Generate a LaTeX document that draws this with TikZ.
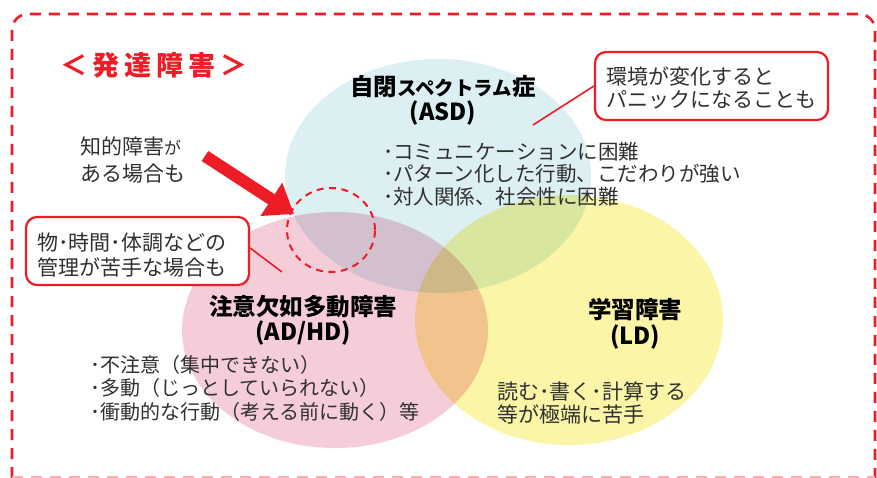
\documentclass[tikz,border=0pt]{standalone}
\usepackage{fontspec}
\setmainfont{Noto Sans CJK JP}
\usetikzlibrary{arrows.meta,shapes.geometric}
\definecolor{bred}{HTML}{EE1C25}
\definecolor{cyanfill}{HTML}{DCF0F3}
\definecolor{pinkfill}{HTML}{F5CDD9}
\definecolor{yellowfill}{HTML}{FBF5A8}
\definecolor{txt}{HTML}{303030}
\tikzset{
  body/.style={text=txt, inner sep=0pt, align=left, font=\fontsize{20.5}{22.5}\selectfont},
  title/.style={text=black, inner sep=0pt, align=center, font=\fontsize{23.5}{26}\selectfont\bfseries},
  callout/.style={draw=bred, line width=2.2pt, rounded corners=11pt, fill=white},
  leader/.style={draw=bred, line width=1.6pt},
}
\begin{document}
\begin{tikzpicture}[x=1pt,y=-1pt]
\useasboundingbox (0,0) rectangle (877,478);
\fill[white] (0,0) rectangle (877,478);
% outer dashed frame
\draw[bred, line width=2.6pt, dash pattern=on 11pt off 8pt, rounded corners=16pt] (12,478) -- (12,14) -- (875,14) -- (875,478);
\draw[bred!35, line width=2.6pt, dash pattern=on 11pt off 8pt] (12,477) -- (875,477);
% ellipses
\begin{scope}[blend mode=multiply]
\fill[cyanfill] (438,176) ellipse [x radius=153, y radius=117];
\fill[pinkfill] (335,330) ellipse [x radius=153, y radius=118];
\fill[yellowfill] (569,320) ellipse [x radius=154, y radius=125];
\end{scope}
% dashed circle
\node (ring) [draw=bred, line width=2pt, dash pattern=on 7pt off 5.5pt, ellipse, minimum width=88pt, minimum height=84pt, inner sep=0pt] at (331,230) {};
% arrow
\coordinate (arrS) at (205,156);
\coordinate (arrE) at (294,214);
\draw[bred, line width=12pt, -{Triangle[width=38pt,length=27pt]}] (arrS) -- (arrE);
% title
\node (hdr) [text=bred, inner sep=0pt, font=\fontsize{27}{30}\selectfont\bfseries\addfontfeatures{LetterSpace=19}] at (154,65) {＜発達障害＞};
\node (iq) [body, anchor=west, font=\fontsize{21}{27}\selectfont] at (80,160) {知的障害{\fontsize{17}{17}\selectfont が}\\ある場合も};
% ASD
\node (asdT) [title] at (443,87) {自閉{\fontsize{19.5}{19.5}\selectfont スペクトラム}症};
\node (asdA) [title] at (443,113) {(ASD)};
\node (asdB) [body, anchor=west] at (383,174) {･コミュニケーションに困難\\･パターン化した行動、こだわりが強い\\･対人関係、社会性に困難};
% ADHD
\node (adT) [title] at (303,307) {注意欠如多動障害};
\node (adA) [title] at (303,333) {(AD/HD)};
\node (adB) [body, anchor=west, font=\fontsize{20}{23.5}\selectfont] at (90,388) {･不注意（集中できない）\\･多動（じっとしていられない）\\･衝動的な行動（考える前に動く）等};
% LD
\node (ldT) [title] at (635,310) {学習障害};
\node (ldA) [title] at (635,337) {(LD)};
\node (ldB) [body, anchor=west, font=\fontsize{21}{22.5}\selectfont] at (497,403) {読む･書く･計算する\\等が極端に苦手};
% callouts
\node (cb1) [callout, minimum width=233pt, minimum height=68pt] at (711.5,86) {};
\node (cb1t) [body, anchor=west, font=\fontsize{21}{23}\selectfont] at (606,88) {環境が変化すると\\パニックになることも};
\coordinate (cb1end) at (533,125);
\draw[leader] (cb1end) -- (cb1.west);
\node (cb2) [callout, minimum width=223pt, minimum height=68pt] at (137.5,251) {};
\node (cb2t) [body, anchor=west, font=\fontsize{21}{25}\selectfont] at (37,255) {物･時間･体調などの\\管理が苦手な場合も};
\coordinate (cb2end) at (282,272);
\draw[leader] (cb2.east) ++(0,-3) coordinate (cb2s) (cb2s) -- (cb2end);
\end{tikzpicture}
\end{document}
